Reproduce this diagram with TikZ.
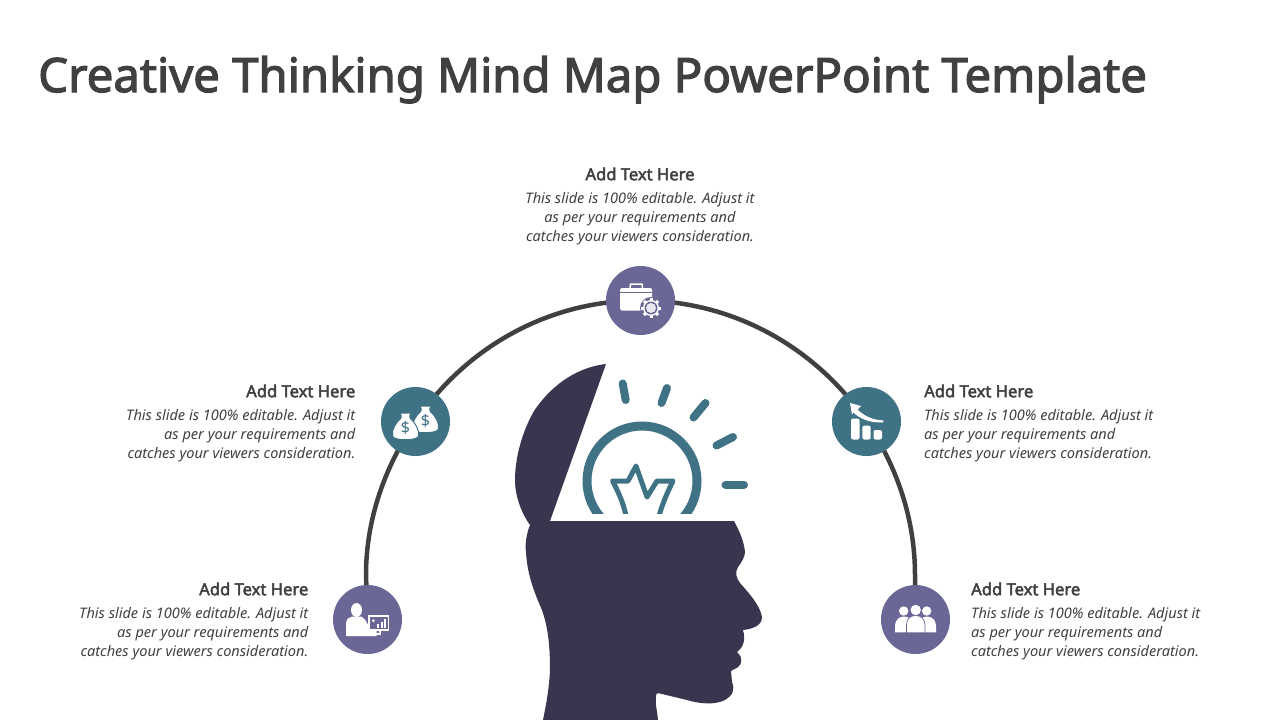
\documentclass[tikz,border=0pt]{standalone}
\usepackage{fontspec}
\setmainfont{Noto Sans}
\newfontfamily\boldface[FakeBold=2.6]{Noto Sans}
\usetikzlibrary{backgrounds}
\definecolor{inkgray}{HTML}{404040}
\definecolor{headnavy}{HTML}{38364E}
\definecolor{tealdisc}{HTML}{3F7285}
\definecolor{purpledisc}{HTML}{6A6797}
\tikzset{
  disc/.style={circle, minimum size=69pt, inner sep=0pt, draw=none},
  heading/.style={font=\fontsize{16.6}{19}\boldface, text=inkgray, inner sep=0pt},
  blurb/.style={font=\fontsize{14.55}{19}\selectfont\itshape, text=inkgray, inner sep=0pt},
  ray/.style={draw=tealdisc, line width=8pt, line cap=round},
  arcline/.style={draw=inkgray, line width=4.5pt},
  moneybag/.pic={
    \fill[white, draw=tealdisc, line width=1pt] (-5.5,-14) .. controls (-4.5,-12) and (-3.5,-10) .. (-4.5,-9)
      .. controls (-10,-4) and (-14,3) .. (-13,9) .. controls (-12,14) and (12,14) .. (13,9)
      .. controls (14,3) and (10,-4) .. (4.5,-9) .. controls (3.5,-10) and (4.5,-12) .. (5.5,-14) -- cycle;
  }
}
\begin{document}
\begin{tikzpicture}[x=1pt, y=-1pt]
\useasboundingbox (0,0) rectangle (1280,720);

% Title
\node[anchor=base west, inner sep=0pt, text=inkgray, font=\fontsize{47.3}{50}\boldface] (title) at (38,92) {Creative Thinking Mind Map PowerPoint Template};

% Discs
\node[disc, fill=purpledisc] (briefcase) at (640.5,300.5) {};
\node[disc, fill=tealdisc] (money) at (415.5,421.5) {};
\node[disc, fill=tealdisc] (growth) at (866.5,421.5) {};
\node[disc, fill=purpledisc] (presenter) at (367.5,619.5) {};
\node[disc, fill=purpledisc] (team) at (915.5,619.5) {};

% Arc
\coordinate (armleft) at (366,575);
\coordinate (armright) at (915,575);
\begin{pgfonlayer}{background}
\draw[arcline] (presenter.center) -- (armleft) .. controls (366,520) and (384.5,467) .. (money.center);
\draw[arcline] (money.center) .. controls (466.8,346.3) and (549.3,300.5) .. (briefcase.center);
\draw[arcline] (briefcase.center) .. controls (731.7,300.5) and (815.2,346.3) .. (growth.center);
\draw[arcline] (growth.center) .. controls (897.5,467) and (915,520) .. (armright) -- (team.center);
\end{pgfonlayer}

% Head
\fill[headnavy] (606,364) .. controls (572,368) and (548,390) .. (534,411)
  .. controls (522,432) and (515,458) .. (515,480) .. controls (515,497) and (522,514) .. (530,525)
  .. controls (526,535) and (525,545) .. (526,552) .. controls (527,572) and (533,590) .. (542,610)
  .. controls (547,625) and (550,640) .. (550,670) .. controls (549,690) and (546,705) .. (543,720)
  -- (658,720) .. controls (657,710) and (655,703) .. (656,697) .. controls (656,692) and (658,693) .. (662,694)
  -- (687,700) .. controls (700,704) and (715,705) .. (725,700) .. controls (733,695) and (735,690) .. (732,682)
  -- (731,671) .. controls (735,668) and (742,668) .. (741,659) .. controls (741,655) and (738,654) .. (737,652)
  .. controls (743,648) and (746,640) .. (743,630) .. controls (752,629) and (762,626) .. (762,617)
  .. controls (760,605) and (748,592) .. (740,583) .. controls (736,578) and (735,572) .. (738,567)
  .. controls (742,562) and (745,556) .. (745,552) .. controls (744,542) and (740,532) .. (734,521)
  -- (550,521) -- cycle;

% Bulb
\begin{scope}
\clip (570,410) rectangle (715,513);
\draw[tealdisc, line width=9pt] (642,481) circle[radius=55];
\draw[tealdisc, line width=5pt, line join=round, line cap=round] (626,516) .. controls (624,505) and (619,493) .. (612.5,481)
  -- (628,481) -- (636,466) -- (647,497) -- (657,481) -- (673,481) .. controls (667,493) and (662,505) .. (659,516);
\end{scope}
\draw[ray] (622.7,383.5) -- (625.7,400);
\draw[ray] (667,388) -- (661.5,403);
\draw[ray] (705.5,403) -- (693.5,417.5);
\draw[ray] (733,437) -- (716.5,445.5);
\draw[ray] (744,484.7) -- (725.5,484.7);

% Briefcase
\fill[white, rounded corners=1.5pt] (620,288) rectangle (652,310.5);
\draw[white, line width=1.5pt] (630,288) -- (630.5,284) -- (642,284) -- (642.5,288);
\draw[purpledisc, line width=1pt] (620,292.7) -- (652,292.7);
\fill[purpledisc] (651,308) circle[radius=11];
\foreach \a in {0,45,...,315}
  \fill[white, rotate around={\a:(651,308)}] (649.5,298) rectangle (652.5,302);
\fill[white] (651,308) circle[radius=8];
\fill[purpledisc] (651,308) circle[radius=6.5];
\fill[white!85!purpledisc] (651,308) circle[radius=5];

% Money bags
\pic at (425.5,420) {moneybag};
\pic at (405.5,427) {moneybag};
\node[text=tealdisc, inner sep=0pt, font=\fontsize{16}{16}\selectfont] (dollarback) at (425.5,421) {\$};
\node[text=tealdisc, inner sep=0pt, font=\fontsize{16}{16}\selectfont] (dollarfront) at (405.5,428) {\$};

% Growth chart
\fill[white, rounded corners=2pt] (851,418.5) rectangle (859.5,439.5);
\fill[white, rounded corners=2pt] (862.3,425.7) rectangle (870.7,439.5);
\fill[white, rounded corners=2pt] (873.5,430) rectangle (882,439.5);
\fill[white] (850,403) -- (861,406) -- (857.5,409.5) .. controls (864,416) and (873,420) .. (883.5,420.5)
  -- (883,422.5) .. controls (870,423) and (860,419) .. (853.5,412.5) -- (852,414.5) -- cycle;

% Presenter
\fill[white] (356.5,610) ellipse[x radius=5.5, y radius=7];
\fill[white] (346,636) -- (346,624) .. controls (346,619) and (349,617) .. (352,616.5) -- (361,616.5)
  .. controls (365,618) and (367,623) .. (369,627) -- (371,631) -- (376.5,631) -- (376.5,636) -- cycle;
\draw[white, line width=1.3pt] (369,616) rectangle (388.5,630);
\draw[white, line width=1.3pt] (380,630) -- (380,634) -- (376,634);
\fill[white] (373.3,620.7) circle[radius=1.5];
\fill[white] (377,624) rectangle (379,627.5);
\fill[white] (380.5,621.5) rectangle (382.5,627.5);
\fill[white] (384,619) rectangle (386,627.5);

% Team
\fill[white] (903.7,611) circle[radius=4.7];
\fill[white] (926.7,611) circle[radius=4.7];
\fill[white] (915.7,610) circle[radius=5.2];
\fill[white] (895,632.3) -- (895,626) .. controls (895,620) and (899,616.5) .. (904,616.5)
  .. controls (909,616.5) and (913,620) .. (913,626) -- (913,632.3) -- cycle;
\fill[white] (918,632.3) -- (918,626) .. controls (918,620) and (922,616.5) .. (927,616.5)
  .. controls (932,616.5) and (936,620) .. (936,626) -- (936,632.3) -- cycle;
\fill[white, draw=purpledisc, line width=0.7pt] (906.5,632.8) -- (906.5,625) .. controls (906.5,619) and (910,615.5) .. (915.7,615.5)
  .. controls (921,615.5) and (925,619) .. (925,625) -- (925,632.8) -- cycle;

% Text blocks
\node[heading] (toplabel) at (640,174) {Add Text Here};
\node[blurb, align=center, anchor=north] (toptext) at (640,192) {This slide is 100\% editable. Adjust it\\as per your requirements and\\catches your viewers consideration.};
\node[heading, anchor=east] (midleftlabel) at (355.5,391) {Add Text Here};
\node[blurb, align=right, anchor=north east] (midlefttext) at (355.5,409) {This slide is 100\% editable. Adjust it\\as per your requirements and\\catches your viewers consideration.};
\node[heading, anchor=west] (midrightlabel) at (924,391) {Add Text Here};
\node[blurb, align=left, anchor=north west] (midrighttext) at (924,409) {This slide is 100\% editable. Adjust it\\as per your requirements and\\catches your viewers consideration.};
\node[heading, anchor=east] (lowleftlabel) at (308.5,589) {Add Text Here};
\node[blurb, align=right, anchor=north east] (lowlefttext) at (308.5,607) {This slide is 100\% editable. Adjust it\\as per your requirements and\\catches your viewers consideration.};
\node[heading, anchor=west] (lowrightlabel) at (971,589) {Add Text Here};
\node[blurb, align=left, anchor=north west] (lowrighttext) at (971,607) {This slide is 100\% editable. Adjust it\\as per your requirements and\\catches your viewers consideration.};

\end{tikzpicture}
\end{document}
